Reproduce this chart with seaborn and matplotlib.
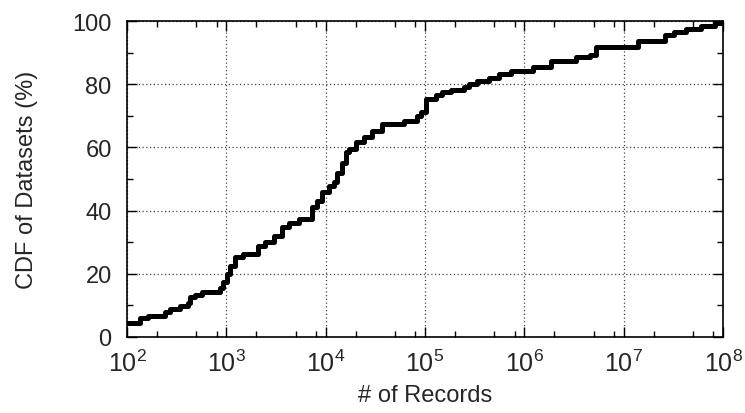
import seaborn as sns
import matplotlib.pyplot as plt
import matplotlib.ticker as mticker
import pandas as pd

# --- CDF of dataset sizes (step points) ---
records = [100, 135, 163, 241, 270, 340, 409, 429, 481, 565, 857, 918,
           1007, 1080, 1211, 1456, 2059, 2477, 3050, 3670, 4313, 5430,
           7340, 8240, 9250, 10870, 12190, 13060, 14660, 16090, 17250,
           20270, 24380, 29310, 36970, 61500, 83000, 91000, 102000,
           128500, 147900, 182000, 245500, 275400, 331700, 437500,
           551000, 727500, 1236000, 1874000, 3342000, 4616000, 5300000,
           13970000, 26060000, 32100000, 42400000, 59900000, 82700000,
           95000000]
cdf_pct = [4.4, 6.0, 6.6, 7.9, 8.9, 9.8, 10.8, 12.7, 13.3, 14.2, 15.5,
           17.4, 20.0, 22.5, 25.3, 26.3, 28.8, 30.0, 32.0, 34.8, 36.0,
           37.3, 41.0, 43.0, 46.0, 47.8, 49.0, 52.0, 55.0, 58.5, 59.5,
           61.7, 63.3, 65.2, 67.4, 68.4, 70.0, 71.2, 75.3, 76.5, 77.5,
           78.2, 79.0, 80.0, 81.0, 82.0, 83.2, 84.2, 85.4, 87.3, 88.6,
           89.2, 91.8, 93.6, 95.5, 96.5, 97.5, 98.4, 99.3, 99.3]

df = pd.DataFrame({"records": records, "cdf": cdf_pct})

# --- Styling ---
sns.set_style("ticks")
plt.rcParams["font.family"] = ["Liberation Sans", "DejaVu Sans"]
plt.rcParams["mathtext.fontset"] = "custom"
plt.rcParams["mathtext.rm"] = "Liberation Sans"
plt.rcParams["mathtext.it"] = "Liberation Sans:italic"

fig = plt.figure(figsize=(7.45, 4.14), dpi=100)
ax = fig.add_axes([0.1705, 0.1836, 0.80, 0.763])

sns.lineplot(data=df, x="records", y="cdf", ax=ax, color="black",
             linewidth=3.6, drawstyle="steps-post", legend=False)

ax.set_xscale("log")
ax.set_xlim(1e2, 1e8)
ax.set_ylim(0, 100)

ax.xaxis.set_major_locator(mticker.LogLocator(base=10, numticks=10))
ax.xaxis.set_minor_locator(mticker.LogLocator(base=10, subs=[2, 5, 8], numticks=10))
ax.xaxis.set_minor_formatter(mticker.NullFormatter())
ax.yaxis.set_major_locator(mticker.MultipleLocator(20))
ax.yaxis.set_minor_locator(mticker.MultipleLocator(10))

ax.tick_params(which="both", direction="in", top=True, right=True,
               color="black")
ax.tick_params(which="major", length=7, width=1)
ax.tick_params(which="minor", length=4, width=1)
ax.tick_params(axis="x", which="major", labelsize=18, pad=9)
ax.tick_params(axis="y", which="major", labelsize=17, pad=11)

ax.grid(True, which="major", linestyle=(0, (1, 2)), color="#444444", linewidth=0.9)
for s in ax.spines.values():
    s.set_color("black")
    s.set_linewidth(1.2)

ax.set_xlabel("# of Records", fontsize=17, labelpad=6)
ax.set_ylabel("CDF of Datasets (%)", fontsize=17, labelpad=25)

plt.savefig("out.png", dpi=100)
plt.close()
